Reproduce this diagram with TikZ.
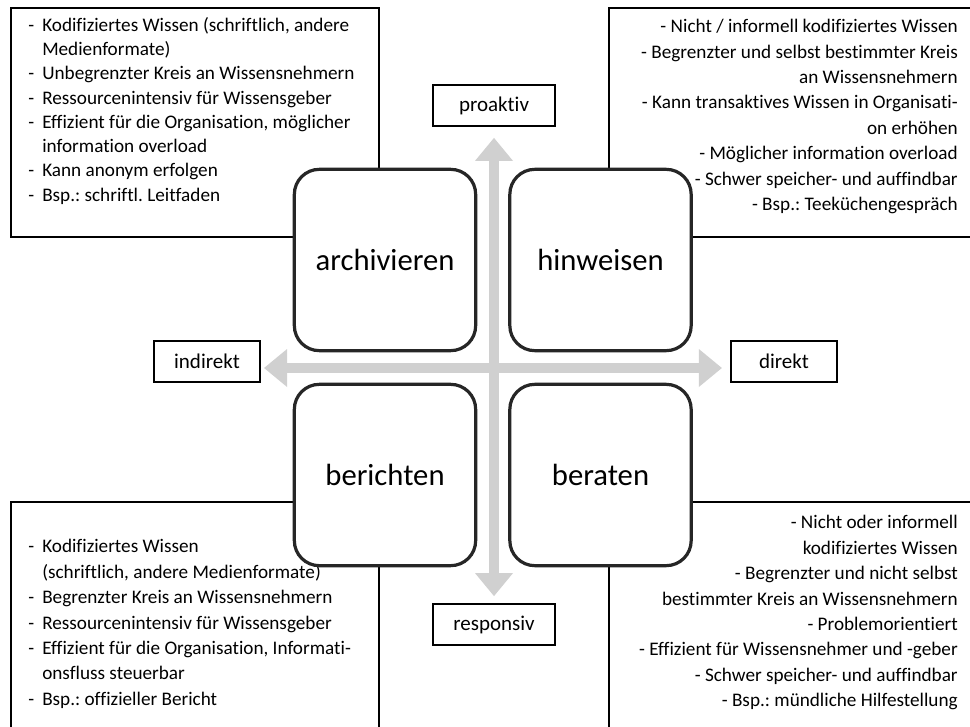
\documentclass[tikz,border=0pt]{standalone}
\usepackage{fontspec}
\setmainfont{Carlito}[Ligatures=CommonOff]
\usetikzlibrary{arrows.meta}
\definecolor{axisgray}{RGB}{208,208,208}
\definecolor{quadline}{RGB}{38,38,38}
\newcommand{\dashitem}{\makebox[10.5pt][l]{-}}
\newcommand{\dashcont}{\hspace*{10.5pt}}
\frenchspacing

\begin{document}
\begin{tikzpicture}[x=0.75pt, y=-0.75pt,
  infobox/.style={draw, line width=1.8pt, inner sep=0pt, anchor=north west},
  listtext/.style={inner sep=0pt, font=\fontsize{14.4}{19.1}\selectfont},
  quadrant/.style={draw=quadline, line width=2.4pt, fill=white, rounded corners=18.75pt,
    minimum width=136pt, minimum height=136pt, inner sep=0pt, font=\fontsize{23}{27}\selectfont},
  axislabel/.style={draw, line width=1.6pt, fill=white, minimum height=31pt, inner sep=0pt,
    font=\fontsize{15.75}{19}\selectfont},
  axis/.style={axisgray, line width=7.5pt,
    {Triangle[width=28.5pt,length=17.25pt,line width=0pt]}-{Triangle[width=28.5pt,length=17.25pt,line width=0pt]}}]
  \useasboundingbox (0,0) rectangle (970,727);
  \clip (0,0) rectangle (970,727);

  \node[infobox, minimum width=276pt, minimum height=171.75pt] (archivbox) at (10,7) {};
  \node[infobox, minimum width=285pt, minimum height=171.75pt] (hinweisbox) at (608,7) {};
  \node[infobox, minimum width=276pt, minimum height=180pt] (berichtbox) at (10,501) {};
  \node[infobox, minimum width=285pt, minimum height=180pt] (beratbox) at (608,501) {};

  \node[listtext, font=\fontsize{14.4}{18.2}\selectfont, anchor=north west, align=left] (archivtext) at (28,17)
    {\dashitem Kodifiziertes Wissen (schriftlich, andere\\
     \dashcont Medienformate)\\
     \dashitem Unbegrenzter Kreis an Wissensnehmern\\
     \dashitem Ressourcenintensiv für Wissensgeber\\
     \dashitem Effizient für die Organisation, möglicher\\
     \dashcont information overload\\
     \dashitem Kann anonym erfolgen\\
     \dashitem Bsp.: schriftl. Leitfaden};
  \node[listtext, anchor=north east, align=right] (hinweistext) at (958,19)
    {- Nicht / informell kodifiziertes Wissen\\
     - Begrenzter und selbst bestimmter Kreis\\
     an Wissensnehmern\\
     - Kann transaktives Wissen in Organisati-\\
     on erhöhen\\
     - Möglicher information overload\\
     - Schwer speicher- und auffindbar\\
     - Bsp.: Teeküchengespräch};
  \node[listtext, anchor=north west, align=left] (berichttext) at (28,539)
    {\dashitem Kodifiziertes Wissen\\
     \dashcont (schriftlich, andere Medienformate)\\
     \dashitem Begrenzter Kreis an Wissensnehmern\\
     \dashitem Ressourcenintensiv für Wissensgeber\\
     \dashitem Effizient für die Organisation, Informati-\\
     \dashcont onsfluss steuerbar\\
     \dashitem Bsp.: offizieller Bericht};
  \node[listtext, anchor=north east, align=right] (berattext) at (958,515)
    {- Nicht oder informell\\
     kodifiziertes Wissen\\
     - Begrenzter und nicht selbst\\
     bestimmter Kreis an Wissensnehmern\\
     - Problemorientiert\\
     - Effizient für Wissensnehmer und -geber\\
     - Schwer speicher- und auffindbar\\
     - Bsp.: mündliche Hilfestellung};

  \node[quadrant] (archiv) at (385,260) {archivieren};
  \node[quadrant] (hinweis) at (600.5,260) {hinweisen};
  \node[quadrant] (bericht) at (385,475) {berichten};
  \node[quadrant] (berat) at (600.5,475) {beraten};

  \node[axislabel, minimum width=92pt] (proaktiv) at (494,105.5) {proaktiv};
  \node[axislabel, minimum width=80pt] (indirekt) at (207,361.5) {indirekt};
  \node[axislabel, minimum width=80pt] (direkt) at (784,361.5) {direkt};
  \node[axislabel, minimum width=92pt] (responsiv) at (494,624.5) {responsiv};

  \coordinate (cross) at (493,368);
  \draw[axis, shorten <=8pt, shorten >=5pt] (proaktiv.south) -- (responsiv.north);
  \draw[axis, shorten <=2pt, shorten >=5.8pt] (indirekt.east |- cross) -- (direkt.west |- cross);
\end{tikzpicture}
\end{document}
